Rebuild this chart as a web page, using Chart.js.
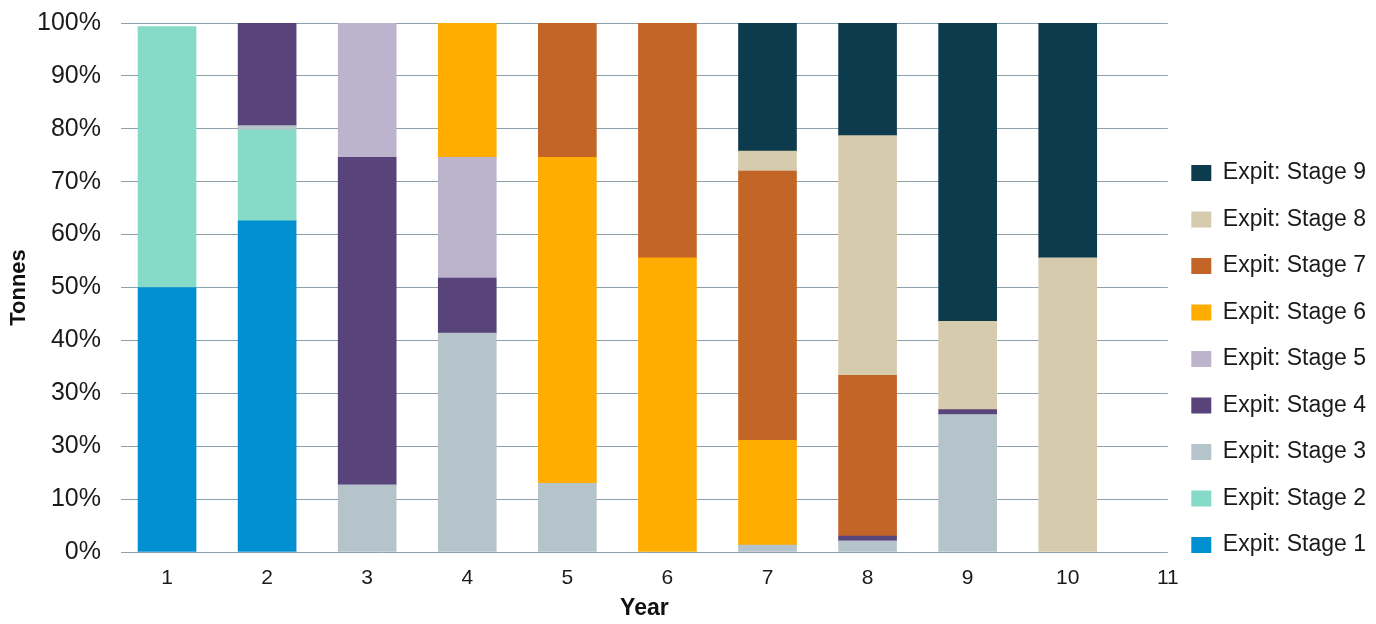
<!DOCTYPE html>
<html>
<head>
<meta charset="utf-8">
<script src="https://cdn.jsdelivr.net/npm/chart.js@4/dist/chart.umd.min.js"></script>
<style>
  html, body { margin: 0; padding: 0; background: #fff; }
  #wrap { width: 1376px; height: 624px; }
</style>
</head>
<body>
<div id="wrap"><canvas id="stageChart"></canvas></div>
<script>
const years = [1, 2, 3, 4, 5, 6, 7, 8, 9, 10, 11];
// the source chart labels 20% as "30%", kept as drawn
const yTickLabels = ['0%', '10%', '30%', '30%', '40%', '50%', '60%', '70%', '80%', '90%', '100%'];

const stage1 = [50, 62.6, 0, 0, 0, 0, 0, 0, 0, 0, 0];
const stage2 = [49.3, 17.2, 0, 0, 0, 0, 0, 0, 0, 0, 0];
const stage3 = [0, 0.8, 12.7, 41.4, 13.0, 0, 1.3, 2.1, 26.0, 0, 0];
const stage4 = [0, 19.4, 61.9, 10.4, 0, 0, 0, 0.9, 0.9, 0, 0];
const stage5 = [0, 0, 25.4, 22.8, 0, 0, 0, 0, 0, 0, 0];
const stage6 = [0, 0, 0, 25.4, 61.6, 55.6, 19.8, 0, 0, 0, 0];
const stage7 = [0, 0, 0, 0, 25.4, 44.4, 50.9, 30.4, 0, 0, 0];
const stage8 = [0, 0, 0, 0, 0, 0, 3.8, 45.3, 16.7, 55.6, 0];
const stage9 = [0, 0, 0, 0, 0, 0, 24.2, 21.3, 56.4, 44.4, 0];

const seriesNames = ['Expit: Stage 1', 'Expit: Stage 2', 'Expit: Stage 3', 'Expit: Stage 4', 'Expit: Stage 5',
  'Expit: Stage 6', 'Expit: Stage 7', 'Expit: Stage 8', 'Expit: Stage 9'];
const seriesValues = [stage1, stage2, stage3, stage4, stage5, stage6, stage7, stage8, stage9];
const seriesColors = ['#008fd0', '#86dbc8', '#b5c4cb', '#58437b', '#bcb4cc', '#ffad00', '#c46528', '#d6cbad', '#0c3b4e'];

const fontFamily = '"Liberation Sans", Arial, sans-serif';

// zero shares are left out so no hairline is drawn for them
const datasets = seriesNames.map((name, i) => ({
  label: name,
  data: years.map((yr, j) => ({ x: yr, y: seriesValues[i][j] === 0 ? null : seriesValues[i][j] })),
  backgroundColor: seriesColors[i],
  borderWidth: 0,
  barThickness: 58
}));

new Chart(document.getElementById('stageChart'), {
  type: 'bar',
  data: { datasets },
  options: {
    responsive: true,
    maintainAspectRatio: false,
    animation: false,
    layout: { padding: { top: 2, right: 0, left: 6, bottom: 2 } },
    plugins: {
      tooltip: { enabled: false },
      legend: {
        position: 'right',
        align: 'start',
        reverse: true,
        title: { display: true, text: '', font: { size: 10 }, padding: { top: 124, bottom: 0 } },
        labels: {
          boxWidth: 20,
          boxHeight: 16,
          padding: 23.5,
          color: '#1a1a1a',
          font: { family: fontFamily, size: 23 }
        }
      }
    },
    scales: {
      x: {
        type: 'linear',
        stacked: true,
        offset: false,
        min: 0.54,
        max: 11,
        afterBuildTicks: scale => { scale.ticks = years.map(v => ({ value: v })); },
        afterFit: scale => { scale.height = 70; },
        grid: { display: false, drawTicks: false },
        border: { display: false },
        ticks: {
          padding: 14,
          maxRotation: 0,
          color: '#1a1a1a',
          font: { family: fontFamily, size: 21 }
        },
        title: {
          display: true,
          text: 'Year',
          color: '#111',
          padding: { top: 0, bottom: 0 },
          font: { family: fontFamily, size: 23, weight: 'bold' }
        }
      },
      y: {
        stacked: true,
        min: 0,
        max: 100,
        afterFit: scale => { scale.width = 115; scale.paddingTop = 23; scale.paddingBottom = 0; },
        grid: { color: '#8ba2ac', lineWidth: 1, drawTicks: false },
        border: { display: false },
        ticks: {
          stepSize: 10,
          padding: 20,
          color: '#1a1a1a',
          font: { family: fontFamily, size: 25 },
          callback: v => yTickLabels[Math.round(v / 10)]
        },
        title: {
          display: true,
          text: 'Tonnes',
          color: '#111',
          padding: { top: 0, bottom: 4 },
          font: { family: fontFamily, size: 22, weight: 'bold' }
        }
      }
    }
  }
});
</script>
</body>
</html>
